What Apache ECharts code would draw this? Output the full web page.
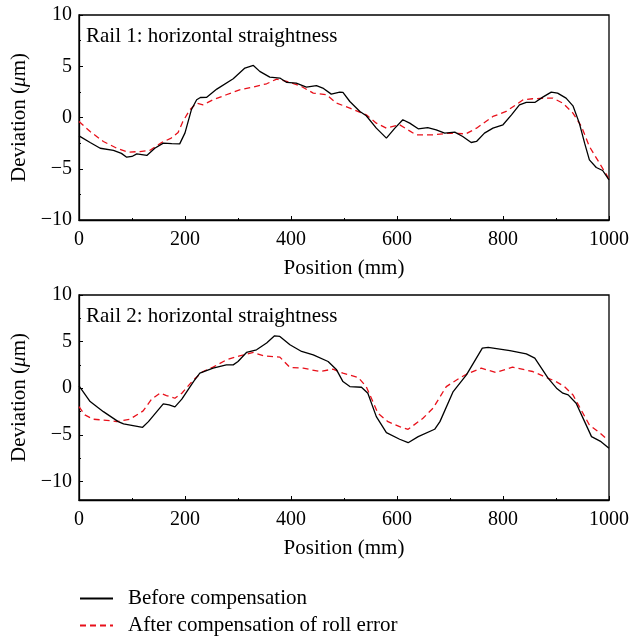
<!DOCTYPE html>
<html>
<head>
<meta charset="utf-8">
<script src="https://cdn.jsdelivr.net/npm/echarts@6/dist/echarts.min.js"></script>
<style>
  html, body { margin: 0; padding: 0; background: #fff; }
  #chart { width: 629px; height: 639px; }
</style>
</head>
<body>
<div id="chart"></div>
<script>
// Rail 1 – horizontal straightness (position in mm, deviation in µm)
const rail1BeforePos = [0, 21, 40, 65, 80, 90, 100, 109, 128, 143, 159, 175, 190, 200, 212, 222, 229, 241, 260, 291, 313, 329, 341, 360, 379, 392, 410, 429, 448, 460, 476, 492, 498, 511, 530, 542, 561, 580, 596, 611, 624, 640, 658, 674, 690, 709, 724, 740, 750, 765, 781, 800, 816, 831, 844, 860, 875, 891, 903, 919, 932, 944, 954, 963, 976, 988, 1000];
const rail1Before = [-1.79, -2.44, -3.0, -3.2, -3.5, -3.87, -3.8, -3.55, -3.7, -3.0, -2.5, -2.55, -2.57, -1.5, 0.75, 1.73, 1.95, 1.97, 2.77, 3.78, 4.82, 5.08, 4.5, 3.94, 3.85, 3.42, 3.36, 2.97, 3.1, 2.87, 2.28, 2.48, 2.45, 1.56, 0.59, 0.17, -1.04, -2.01, -1.04, -0.22, -0.55, -1.1, -0.98, -1.2, -1.52, -1.43, -1.85, -2.44, -2.34, -1.52, -1.04, -0.71, 0.26, 1.24, 1.47, 1.47, 1.99, 2.48, 2.38, 1.89, 1.14, -0.55, -2.5, -4.13, -4.88, -5.17, -6.08];

const rail1AfterPos = [0, 21, 46, 71, 93, 115, 134, 156, 174, 187, 196, 209, 222, 234, 253, 278, 303, 329, 354, 373, 392, 417, 442, 467, 486, 511, 542, 561, 580, 605, 636, 668, 699, 730, 750, 781, 806, 838, 856, 881, 894, 913, 932, 948, 963, 982, 1000];
const rail1After = [-0.39, -1.37, -2.34, -2.99, -3.38, -3.32, -3.2, -2.44, -2.01, -1.46, -0.39, 0.75, 1.4, 1.24, 1.73, 2.22, 2.7, 2.97, 3.29, 3.75, 3.52, 3.1, 2.38, 2.22, 1.4, 0.92, 0.26, -0.55, -1.04, -0.71, -1.69, -1.69, -1.52, -1.6, -1.04, 0.1, 0.59, 1.73, 1.83, 1.89, 1.89, 1.4, 0.43, -0.88, -2.83, -4.45, -6.0];

// Rail 2 – horizontal straightness
const rail2BeforePos = [0, 21, 46, 74, 84, 102, 120, 131, 159, 170, 181, 194, 216, 228, 253, 278, 291, 300, 316, 335, 354, 369, 379, 398, 420, 442, 470, 486, 498, 511, 533, 545, 561, 580, 605, 621, 640, 671, 681, 706, 731, 761, 772, 813, 844, 860, 885, 901, 913, 923, 938, 954, 967, 985, 1000];
const rail2Before = [0.25, -1.44, -2.52, -3.59, -3.84, -4.02, -4.2, -3.59, -1.69, -1.8, -2.0, -1.18, 0.71, 1.61, 2.15, 2.5, 2.5, 2.86, 3.83, 4.12, 4.84, 5.62, 5.55, 4.66, 3.94, 3.58, 2.86, 1.97, 0.71, 0.17, 0.1, -0.54, -3.05, -4.77, -5.48, -5.85, -5.2, -4.41, -3.59, -0.36, 1.43, 4.3, 4.37, 4.04, 3.69, 3.23, 1.08, 0.0, -0.54, -0.72, -1.61, -3.59, -5.2, -5.74, -6.45];

const rail2AfterPos = [0, 11, 27, 58, 71, 96, 121, 137, 153, 165, 181, 194, 216, 234, 253, 278, 303, 329, 348, 379, 398, 423, 454, 479, 498, 527, 542, 564, 583, 605, 621, 649, 668, 693, 718, 731, 759, 787, 818, 856, 875, 900, 916, 932, 944, 963, 982, 998];
const rail2After = [-1.98, -2.87, -3.33, -3.48, -3.59, -3.33, -2.44, -1.18, -0.54, -0.79, -1.08, -0.54, 0.89, 1.79, 2.26, 3.04, 3.47, 3.83, 3.47, 3.33, 2.22, 2.15, 1.79, 2.04, 1.61, 1.14, 0.17, -2.69, -3.59, -4.13, -4.41, -3.23, -2.15, 0.17, 1.08, 1.5, 2.15, 1.68, 2.26, 1.79, 1.32, 0.71, 0.17, -0.72, -1.98, -3.95, -4.77, -5.56];

const yLabelValues = [-10, -5, 0, 5, 10];
const yMinorValues = [-7.5, -2.5, 2.5, 7.5];
const panelTitles = ['Rail 1: horizontal straightness', 'Rail 2: horizontal straightness'];
const seriesNames = ['Before compensation', 'After compensation of roll error'];

const FONT = '"Liberation Serif", "Times New Roman", serif';
const FS = 21;      // titles, axis names, legend
const FS_TICK = 20; // tick labels
const zip = (xs, ys) => xs.map((x, i) => [x, ys[i]]);
const minusFmt = v => String(v).replace('-', '\u2212');

const grids = [
  { left: 79, top: 15, width: 530, height: 205 },
  { left: 79, top: 295, width: 530, height: 205 }
];

function xAxisFor(gi) {
  return {
    type: 'value', gridIndex: gi, min: 0, max: 1000, interval: 200,
    name: 'Position (mm)', nameLocation: 'middle', nameGap: 38,
    nameTextStyle: { fontFamily: FONT, fontSize: FS, color: '#000' },
    axisLine: { show: true, onZero: false, lineStyle: { color: '#000', width: 1.3 } },
    axisTick: { show: true, inside: true, length: 4, lineStyle: { color: '#000', width: 1 } },
    minorTick: { show: true, splitNumber: 2, length: 2, lineStyle: { color: '#000', width: 1 } },
    axisLabel: { fontFamily: FONT, fontSize: FS_TICK, color: '#000', margin: 10, formatter: v => String(v) },
    splitLine: { show: false }
  };
}

function yAxisFor(gi, min) {
  return {
    type: 'value', gridIndex: gi, min: min, max: 10,
    name: '{a|Deviation (}{b|\u03bc}{a|m)}', nameLocation: 'middle', nameGap: 47,
    nameTextStyle: {
      rich: {
        a: { fontFamily: FONT, fontSize: FS, color: '#000' },
        b: { fontFamily: FONT, fontSize: FS, color: '#000', fontStyle: 'italic' }
      }
    },
    axisLine: { show: true, onZero: false, lineStyle: { color: '#000', width: 1.3 } },
    axisTick: { show: true, inside: true, length: 4, customValues: yLabelValues, lineStyle: { color: '#000', width: 1 } },
    axisLabel: { fontFamily: FONT, fontSize: FS_TICK, color: '#000', margin: 7, customValues: yLabelValues, formatter: minusFmt },
    splitLine: { show: false }
  };
}

function yMinorAxisFor(gi, min) {
  return {
    type: 'value', gridIndex: gi, min: min, max: 10, position: 'left',
    axisLine: { show: false },
    axisTick: { show: true, inside: true, length: 2, customValues: yMinorValues, lineStyle: { color: '#000', width: 1 } },
    axisLabel: { show: false },
    splitLine: { show: false }
  };
}

const lineBlack = { color: '#000', width: 1.3, type: 'solid' };
const lineRed = { color: '#e8101a', width: 1.3, type: [6, 4] };

function mkSeries(name, gi, data, style) {
  return {
    name: name, type: 'line', xAxisIndex: gi, yAxisIndex: gi * 2,
    data: data, symbol: 'none', smooth: false, lineStyle: style,
    itemStyle: { color: style.color }, animation: false, z: name === seriesNames[0] ? 3 : 2
  };
}

// one legend row per series, stacked under the lower panel
const legends = seriesNames.map((n, i) => ({
  show: true, left: 79, top: 588 + i * 27, itemWidth: 33, itemHeight: 14, padding: 0,
  data: [n],
  itemStyle: { opacity: 0 },
  textStyle: { fontFamily: FONT, fontSize: FS, color: '#000', padding: [0, 0, 0, 10] }
}));

const option = {
  backgroundColor: '#fff',
  animation: false,
  title: panelTitles.map((t, i) => ({
    text: t, left: 86, top: i === 0 ? 26 : 306, padding: 0,
    textStyle: { fontFamily: FONT, fontSize: FS, fontWeight: 'normal', color: '#000' }
  })),
  grid: grids.map(g => Object.assign({
    show: true, borderColor: '#000', borderWidth: 1.3, backgroundColor: 'transparent',
    outerBoundsMode: 'none', containLabel: false
  }, g)),
  xAxis: [xAxisFor(0), xAxisFor(1)],
  yAxis: [yAxisFor(0, -10), yMinorAxisFor(0, -10), yAxisFor(1, -12), yMinorAxisFor(1, -12)],
  legend: legends,
  series: [
    mkSeries(seriesNames[1], 0, zip(rail1AfterPos, rail1After), lineRed),
    mkSeries(seriesNames[0], 0, zip(rail1BeforePos, rail1Before), lineBlack),
    mkSeries(seriesNames[1], 1, zip(rail2AfterPos, rail2After), lineRed),
    mkSeries(seriesNames[0], 1, zip(rail2BeforePos, rail2Before), lineBlack)
  ]
};

const chart = echarts.init(document.getElementById('chart'), null, { renderer: 'canvas' });
chart.setOption(option);
</script>
</body>
</html>
